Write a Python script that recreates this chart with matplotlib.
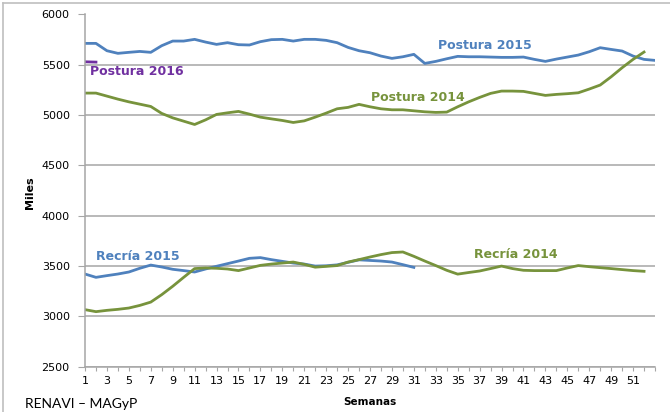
import numpy as np
import matplotlib
matplotlib.use("Agg")
import matplotlib.pyplot as plt
from matplotlib.lines import Line2D

# semanas
semanas = np.arange(1, 54)

postura_2015 = [5713, 5713, 5640, 5614, 5624, 5633, 5624, 5690, 5736, 5736,
                5753, 5726, 5703, 5720, 5700, 5697, 5730, 5750, 5753, 5736,
                5753, 5753, 5743, 5720, 5673, 5640, 5620, 5587, 5564, 5580,
                5604, 5514, 5534, 5560, 5584, 5580, 5580, 5577, 5574, 5574,
                5577, 5554, 5534, 5557, 5577, 5597, 5630, 5670, 5653, 5637,
                5587, 5554, 5544]

postura_2014 = [5219, 5219, 5189, 5159, 5132, 5109, 5086, 5017, 4973, 4940,
                4907, 4953, 5007, 5023, 5037, 5010, 4980, 4963, 4947, 4927,
                4943, 4980, 5020, 5063, 5077, 5107, 5083, 5063, 5053, 5053,
                5043, 5033, 5027, 5030, 5083, 5132, 5176, 5216, 5239, 5239,
                5236, 5216, 5196, 5206, 5213, 5222, 5259, 5299, 5381, 5471,
                5554, 5627]

postura_2016 = [5530, 5527]

recria_2015 = [3421, 3388, 3405, 3421, 3441, 3478, 3510, 3491, 3468, 3455,
               3441, 3471, 3498, 3524, 3550, 3577, 3584, 3564, 3547, 3530,
               3520, 3500, 3503, 3512, 3537, 3562, 3556, 3550, 3540, 3514,
               3487]

recria_2014 = [3067, 3047, 3060, 3070, 3083, 3109, 3142, 3216, 3299, 3388,
               3475, 3481, 3478, 3471, 3455, 3481, 3507, 3520, 3530, 3540,
               3517, 3489, 3497, 3505, 3540, 3564, 3590, 3614, 3634, 3640,
               3597, 3550, 3505, 3458, 3420, 3436, 3451, 3475, 3500, 3475,
               3458, 3455, 3455, 3455, 3481, 3505, 3494, 3484, 3475, 3465,
               3455, 3448]

azul = "#4F81BD"
verde = "#77933C"
violeta = "#7030A0"
gris = "#A6A6A6"

fig = plt.figure(figsize=(6.7, 4.12), dpi=100)
ax = fig.add_axes([85/670, 1 - 366.7/412, 570/670, (366.7 - 14.5)/412])

ax.plot(semanas[:len(postura_2015)], postura_2015, color=azul, lw=2.0)
ax.plot(semanas[:len(postura_2014)], postura_2014, color=verde, lw=2.0)
ax.plot(semanas[:len(postura_2016)], postura_2016, color=violeta, lw=2.0)
ax.plot(semanas[:len(recria_2015)], recria_2015, color=azul, lw=2.0)
ax.plot(semanas[:len(recria_2014)], recria_2014, color=verde, lw=2.0)

ax.set_xlim(1, 53)
ax.set_ylim(2500, 6000)
ax.set_yticks(np.arange(2500, 6001, 500))
ax.set_xticks(semanas)
ax.set_xticklabels([str(s) if (s % 2 == 1 and s < 53) else "" for s in semanas])
ax.yaxis.grid(True, color=gris, lw=1.1)
ax.set_axisbelow(True)
for s in ["top", "right"]:
    ax.spines[s].set_visible(False)
for s in ["left", "bottom"]:
    ax.spines[s].set_color(gris)
    ax.spines[s].set_linewidth(1.1)
ax.tick_params(axis="y", length=5, color=gris, labelsize=8, pad=6)
ax.tick_params(axis="x", length=3, color=gris, labelsize=8, pad=4)

etiq = dict(fontsize=9, fontweight="bold", va="center", ha="left")
ax.text(1.5, 5430, "Postura 2016", color=violeta, **etiq)
ax.text(33.2, 5690, "Postura 2015", color=azul, **etiq)
ax.text(27.1, 5175, "Postura 2014", color=verde, **etiq)
ax.text(2, 3595, "Recría 2015", color=azul, **etiq)
ax.text(36.5, 3615, "Recría 2014", color=verde, **etiq)

fig.text(30/670, 1 - 193/412, "Miles", rotation=90, fontsize=8, fontweight="bold",
         ha="center", va="center", family="Liberation Sans Narrow")
fig.text(370/670, 1 - 402/412, "Semanas", fontsize=7.5, fontweight="bold",
         ha="center", va="center")
fig.text(25/670, 1 - 404/412, "RENAVI \u2013 MAGyP", fontsize=10,
         ha="left", va="center", family="Lato")

# marco del grafico
fig.add_artist(Line2D([3/670, 3/670], [0, 1 - 3/412], color="#BFBFBF", lw=1.2))
fig.add_artist(Line2D([3/670, 1], [1 - 3/412, 1 - 3/412], color="#BFBFBF", lw=1.2))

fig.savefig("out.png", dpi=100)
